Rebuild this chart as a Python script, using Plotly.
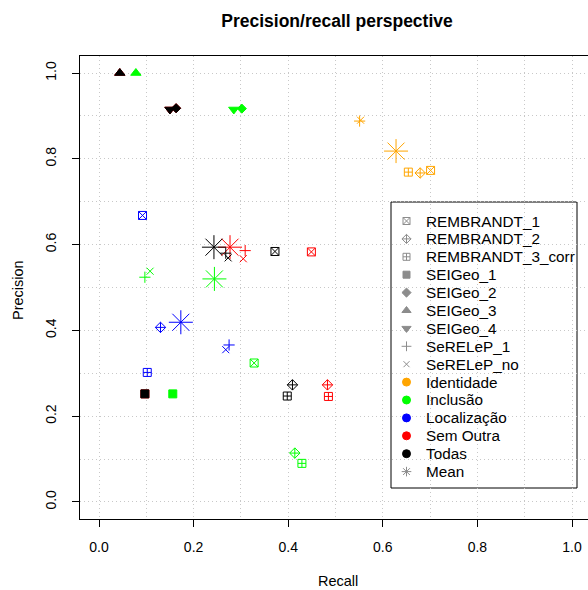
import plotly.graph_objects as go

methods = ["REMBRANDT_1", "REMBRANDT_2", "REMBRANDT_3_corr", "SEIGeo_1", "SEIGeo_2",
           "SEIGeo_3", "SEIGeo_4", "SeRELeP_1", "SeRELeP_no"]
method_symbols = ["square-x-open", "diamond-cross-open", "square-cross-open", "square", "diamond",
                  "triangle-up", "triangle-down", "cross-thin-open", "x-thin-open"]
method_sizes = [8, 8, 8, 8, 7, 9, 9, 8, 7]

categories = ["Identidade", "Inclusão", "Localização", "Sem Outra", "Todas"]
category_colors = ["#FFA500", "#00FF00", "#0000FF", "#FF0000", "#000000"]

identidade_recall = [0.701, 0.679, 0.654, None, None, None, None, 0.551, 0.553]
identidade_precision = [0.773, 0.767, 0.769, None, None, None, None, 0.888, 0.890]

inclusao_recall = [0.328, 0.414, 0.429, 0.156, 0.302, 0.078, 0.285, 0.097, 0.108]
inclusao_precision = [0.324, 0.114, 0.090, 0.252, 0.917, 1.000, 0.915, 0.524, 0.538]

localizacao_recall = [0.092, 0.130, 0.102, None, None, None, None, 0.275, 0.268]
localizacao_precision = [0.668, 0.407, 0.302, None, None, None, None, 0.366, 0.355]

semoutra_recall = [0.449, 0.483, 0.485, 0.097, 0.163, 0.044, 0.150, 0.309, 0.305]
semoutra_precision = [0.583, 0.273, 0.246, 0.252, 0.918, 1.000, 0.915, 0.586, 0.567]

todas_recall = [0.372, 0.409, 0.398, 0.097, 0.163, 0.044, 0.150, 0.268, 0.273]
todas_precision = [0.584, 0.273, 0.247, 0.252, 0.918, 1.000, 0.915, 0.580, 0.569]

mean_recall = [0.628, 0.244, 0.173, 0.277, 0.243]
mean_precision = [0.818, 0.520, 0.419, 0.594, 0.594]

x_ticks = [0.0, 0.2, 0.4, 0.6, 0.8, 1.0]
y_ticks = [0.0, 0.2, 0.4, 0.6, 0.8, 1.0]

recalls = [identidade_recall, inclusao_recall, localizacao_recall, semoutra_recall, todas_recall]
precisions = [identidade_precision, inclusao_precision, localizacao_precision, semoutra_precision, todas_precision]

FONT = "Liberation Sans, Arial, Helvetica, sans-serif"
W, H = 588, 590
PL, PR, PT, PB = 80, 588, 56, 519  # plot area in pixels

fig = go.Figure()

for ci, cat in enumerate(categories):
    col = category_colors[ci]
    for mi, m in enumerate(methods):
        xv = recalls[ci][mi]
        yv = precisions[ci][mi]
        if xv is None:
            continue
        fig.add_trace(go.Scatter(
            x=[xv], y=[yv], mode="markers", showlegend=False, hoverinfo="skip",
            marker=dict(symbol=method_symbols[mi], size=method_sizes[mi], color=col,
                        opacity=1, line=dict(color=col, width=1))))
    fig.add_trace(go.Scatter(
        x=[mean_recall[ci]], y=[mean_precision[ci]], mode="markers", showlegend=False,
        hoverinfo="skip",
        marker=dict(symbol="asterisk-open", size=20, color=col, opacity=1,
                    line=dict(color=col, width=1))))

# ---- manual legend (drawn in pixel space on an overlay axis pair) ----
legend_labels = methods + categories + ["Mean"]
LG = "#8c8c8c"
legend_symbols = method_symbols + ["circle"] * len(categories) + ["asterisk-open"]
legend_colors = [LG] * len(methods) + category_colors + [LG]
legend_sizes = [7, 7, 7, 7, 7, 8, 8, 7, 6] + [8] * len(categories) + [8]
LEG_X0, LEG_X1, LEG_Y0, LEG_Y1 = 391, 577, 202, 488
LEG_SYM_X, LEG_TXT_X, LEG_FIRST_Y, LEG_STEP = 406.5, 424, 221, 17.9
leg_y = [LEG_FIRST_Y + LEG_STEP * i for i in range(len(legend_labels))]

fig.add_trace(go.Scatter(
    x=[LEG_SYM_X] * len(legend_labels), y=leg_y, xaxis="x2", yaxis="y2",
    mode="markers", showlegend=False, hoverinfo="skip",
    marker=dict(symbol=legend_symbols, size=legend_sizes, color=legend_colors, opacity=1,
                line=dict(color=legend_colors, width=1))))

def px_x(p):
    return (p - PL) / (PR - PL)

def px_y(p):
    return (PB - p) / (PB - PT)

fig.add_shape(type="rect", xref="paper", yref="paper",
              x0=px_x(LEG_X0), x1=px_x(LEG_X1), y0=px_y(LEG_Y1), y1=px_y(LEG_Y0),
              line=dict(color="black", width=1), fillcolor="white", layer="between")
for lab, yy in zip(legend_labels, leg_y):
    fig.add_annotation(text=lab, xref="paper", yref="paper", x=px_x(LEG_TXT_X), y=px_y(yy),
                       xanchor="left", yanchor="middle", showarrow=False,
                       font=dict(size=15.3, family=FONT, color="black"))

x_left = -19 / 473
x_right = x_left + (PR - PL) / 473
y_lo = -17 / 428.4
y_hi = 1 + 17 / 428.4

GC = "#c8c8c8"
GD = "1px,3px"
fig.update_layout(
    xaxis=dict(
        range=[x_left, x_right], tickvals=x_ticks, ticktext=[f"{v:.1f}" for v in x_ticks],
        ticks="outside", ticklen=7, tickcolor="black", showline=True, linecolor="black",
        linewidth=1, mirror=True, zeroline=False, ticklabelstandoff=8,
        showgrid=True, gridcolor=GC, griddash=GD, gridwidth=1,
        minor=dict(dtick=0.1, tick0=0, showgrid=True, gridcolor=GC, griddash=GD, ticks=""),
        tickfont=dict(size=14, color="black", family=FONT)),
    yaxis=dict(
        range=[y_lo, y_hi], tickvals=y_ticks, ticktext=[f"{v:.1f}" for v in y_ticks],
        ticks="outside", ticklen=7, tickcolor="black", showline=True, linecolor="black",
        linewidth=1, mirror=False, zeroline=False, tickangle=-90, ticklabelstandoff=10,
        showgrid=True, gridcolor=GC, griddash=GD, gridwidth=1,
        minor=dict(dtick=0.1, tick0=0, showgrid=True, gridcolor=GC, griddash=GD, ticks=""),
        tickfont=dict(size=14, color="black", family=FONT)),
    xaxis2=dict(overlaying="x", anchor="y2", range=[PL, PR], visible=False, showgrid=False),
    yaxis2=dict(overlaying="y", anchor="x2", range=[PB, PT], visible=False, showgrid=False),
    width=W, height=H,
    margin=dict(l=PL, r=W - PR, t=PT, b=H - PB),
    plot_bgcolor="white", paper_bgcolor="white",
    font=dict(family=FONT, color="black", size=14),
    title=dict(text="<b>Precision/recall perspective</b>", x=337 / W, xref="container",
               xanchor="center", y=1 - 21 / H, yref="container", yanchor="middle",
               font=dict(size=17.5, family=FONT, color="black")),
    showlegend=False,
)
fig.add_annotation(text="Recall", xref="paper", yref="paper",
                   x=px_x(338), y=px_y(581), showarrow=False,
                   xanchor="center", yanchor="middle", font=dict(size=14.5, family=FONT))
fig.add_annotation(text="Precision", xref="paper", yref="paper",
                   x=px_x(18), y=px_y(290), showarrow=False, textangle=-90,
                   xanchor="center", yanchor="middle", font=dict(size=14.5, family=FONT))

fig.write_html("out.html", config={"displayModeBar": False},
               post_script="document.body.style.margin='0px';document.body.style.overflow='hidden';")
